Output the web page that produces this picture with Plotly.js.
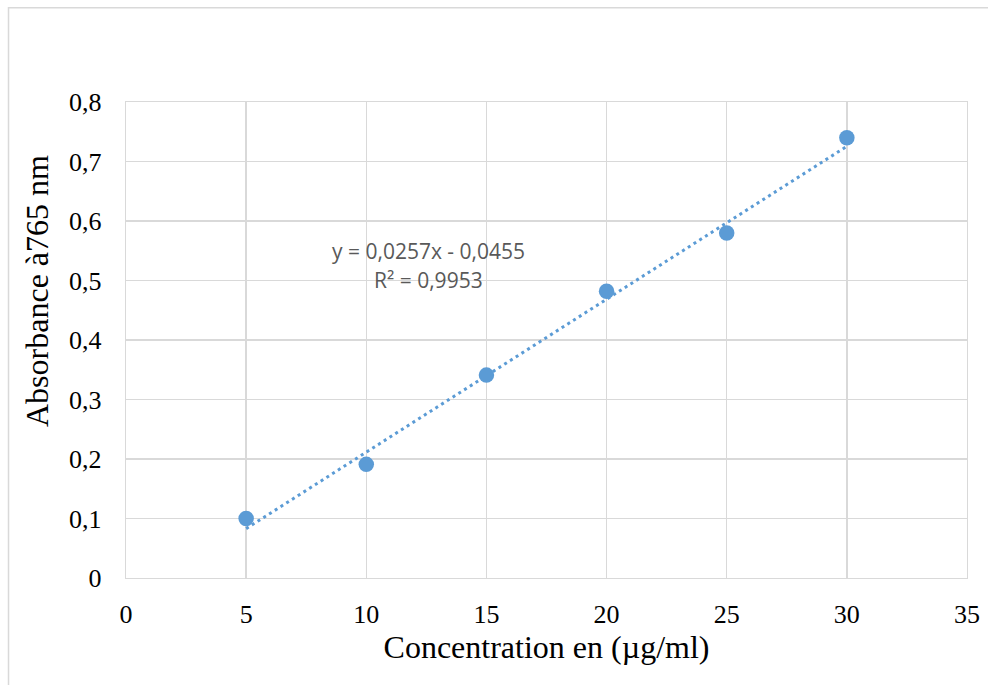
<!DOCTYPE html>
<html>
<head>
<meta charset="utf-8">
<script src="https://cdn.plot.ly/plotly-3.0.1.min.js"></script>
<style>
  html, body { margin: 0; padding: 0; background: #ffffff; }
  #chart { width: 988px; height: 685px; }
</style>
</head>
<body>
<div id="chart"></div>
<script>
// Calibration data: concentration (µg/ml) vs absorbance at 765 nm
const concentration = [5, 10, 15, 20, 25, 30];
const absorbance = [0.100, 0.191, 0.341, 0.482, 0.580, 0.740];

// Linear trendline as reported: y = 0,0257x - 0,0455
const slope = 0.0257;
const intercept = -0.0455;
const rSquared = 0.9953;
const trendX = [concentration[0], concentration[concentration.length - 1]];
const trendY = trendX.map(x => slope * x + intercept);

const xTicks = [0, 5, 10, 15, 20, 25, 30, 35];
const xTickText = ['0', '5', '10', '15', '20', '25', '30', '35'];
const yTicks = [0, 0.1, 0.2, 0.3, 0.4, 0.5, 0.6, 0.7, 0.8];
const yTickText = ['0', '0,1', '0,2', '0,3', '0,4', '0,5', '0,6', '0,7', '0,8'];

const fmt = v => v.toString().replace('.', ',');
const eqText = 'y = ' + fmt(slope) + 'x - ' + fmt(Math.abs(intercept));
const r2Text = 'R² = ' + fmt(rSquared);

const blue = '#5b9bd5';
const grid = '#d9d9d9';
const serif = 'Liberation Serif, Times New Roman, serif';
const sans = 'Open Sans, Liberation Sans, sans-serif';

const traces = [
  {
    x: trendX, y: trendY,
    type: 'scatter', mode: 'lines',
    line: { color: blue, width: 3, dash: '3px,3.8px' },
    hoverinfo: 'skip', showlegend: false
  },
  {
    x: concentration, y: absorbance,
    type: 'scatter', mode: 'markers',
    marker: { color: blue, size: 15.5 },
    showlegend: false
  }
];

const layout = {
  width: 988, height: 685,
  margin: { l: 126, r: 21, t: 102, b: 107 },
  paper_bgcolor: '#ffffff',
  plot_bgcolor: '#ffffff',
  font: { family: serif, color: '#000000', size: 26 },
  xaxis: {
    range: [0, 35],
    tickvals: xTicks, ticktext: xTickText,
    showgrid: true, gridcolor: grid, gridwidth: 1.3,
    zeroline: false,
    showline: true, linecolor: grid, linewidth: 1.3, mirror: true,
    ticks: 'outside', ticklen: 12, tickcolor: 'rgba(0,0,0,0)',
    tickfont: { family: serif, size: 26, color: '#000000' },
    title: { text: 'Concentration en (µg/ml)', font: { family: serif, size: 32, color: '#000000' }, standoff: 6 }
  },
  yaxis: {
    range: [0, 0.8],
    tickvals: yTicks, ticktext: yTickText,
    showgrid: true, gridcolor: grid, gridwidth: 1.3,
    zeroline: false,
    showline: true, linecolor: grid, linewidth: 1.3, mirror: true,
    ticks: 'outside', ticklen: 18, tickcolor: 'rgba(0,0,0,0)',
    tickfont: { family: serif, size: 26, color: '#000000' }
  },
  annotations: [
    {
      text: 'Absorbance à765 nm',
      xref: 'paper', yref: 'paper',
      x: -0.1058, y: 0.603, xanchor: 'center', yanchor: 'middle',
      textangle: -90, showarrow: false,
      font: { family: serif, size: 32, color: '#000000' }
    },
    {
      text: eqText,
      xref: 'x', yref: 'y',
      x: 12.6, y: 0.550, xanchor: 'center', yanchor: 'middle',
      showarrow: false,
      font: { family: sans, size: 21, color: '#595959' }
    },
    {
      text: r2Text,
      xref: 'x', yref: 'y',
      x: 12.6, y: 0.501, xanchor: 'center', yanchor: 'middle',
      showarrow: false,
      font: { family: sans, size: 21, color: '#595959' }
    }
  ],
  shapes: [
    {
      // light chart-area frame
      type: 'rect', xref: 'paper', yref: 'paper',
      x0: -0.1397, x1: 1.2, y0: -0.4, y1: 1.1978,
      line: { color: grid, width: 1.5 }, fillcolor: 'rgba(0,0,0,0)', layer: 'below'
    }
  ]
};

Plotly.newPlot('chart', traces, layout, { displayModeBar: false, staticPlot: true });
</script>
</body>
</html>
